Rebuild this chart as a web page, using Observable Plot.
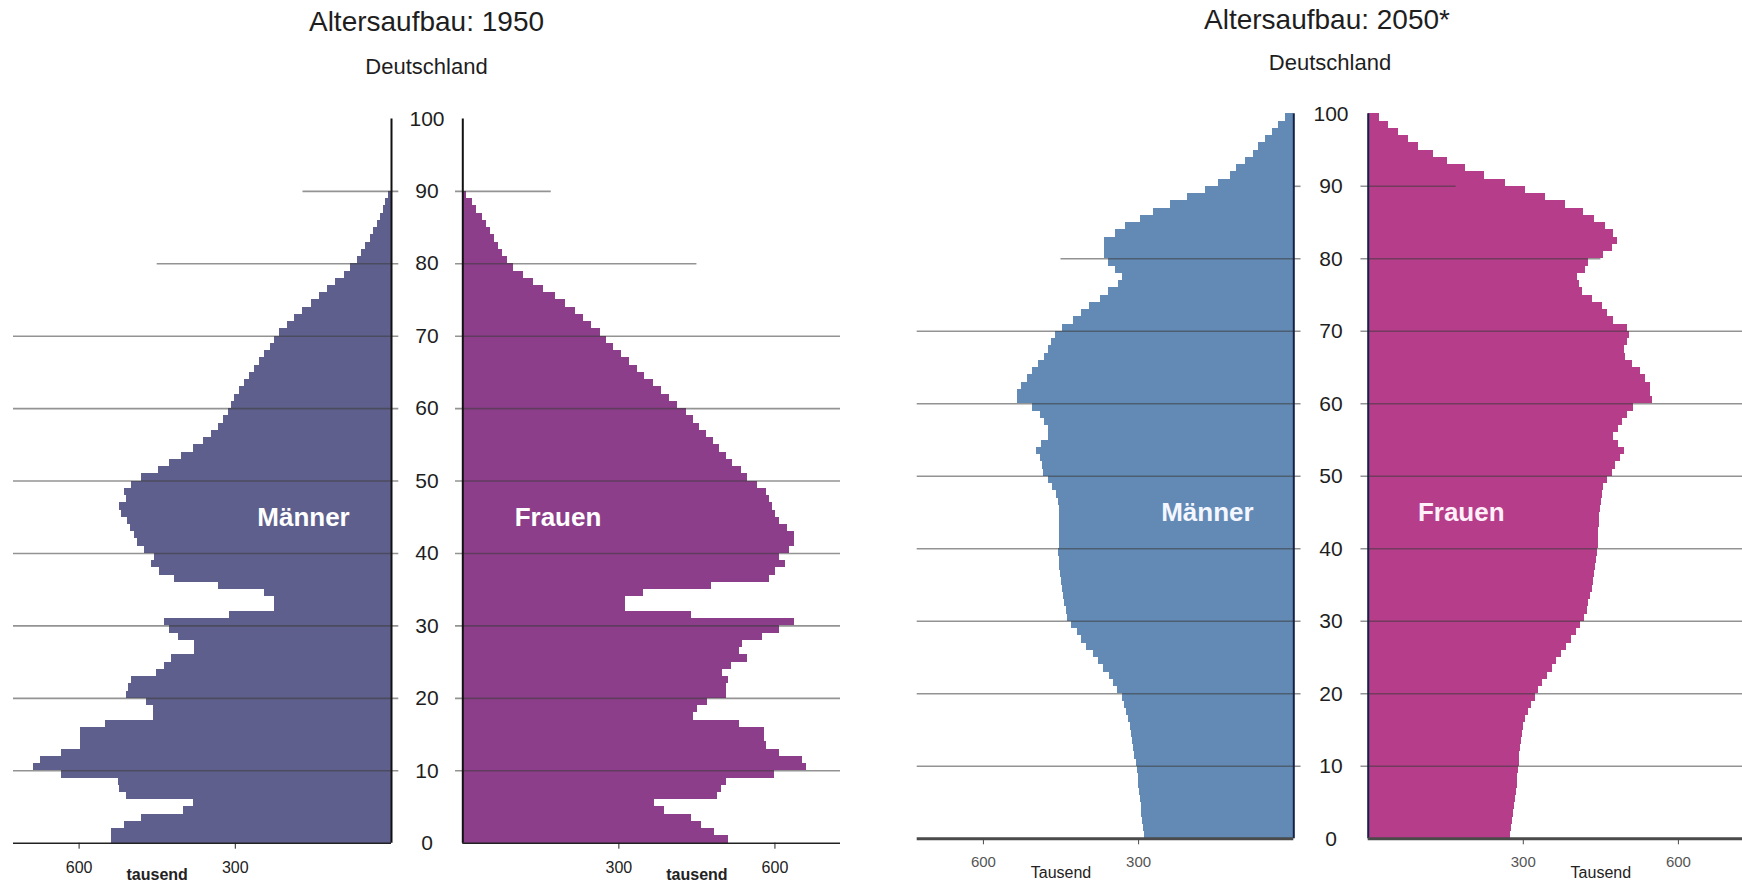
<!DOCTYPE html>
<html><head><meta charset="utf-8">
<script src="https://cdn.jsdelivr.net/npm/d3@7"></script>
<script src="https://cdn.jsdelivr.net/npm/@observablehq/plot@0.6"></script>
<style>
html,body{margin:0;padding:0;background:#fff;overflow:hidden;width:1742px;height:888px;}
#page{position:relative;width:1742px;height:888px;font-family:"Liberation Sans",Arial,sans-serif;}
.slot{position:absolute;top:0;}
.t{position:absolute;transform:translate(-50%,-50%);white-space:nowrap;color:#1e1e1e;}
</style></head><body><div id="page"></div>
<script>
// ---------- data (thousands of persons per single year of age) ----------
const ages = d3.range(0, 100);
const male1950 = [538,538,512,480,400,381,509,522,525,633,688,675,633,598,598,598,550,458,458,471,
  509,506,499,451,436,423,378,378,410,426,436,311,225,225,244,333,416,445,461,455,
  474,487,493,501,507,518,522,509,512,499,480,448,426,404,381,362,346,333,322,314,
  308,301,292,282,273,263,254,244,233,224,215,200,186,170,154,139,123,107,91,78,
  66,57,49,41,35,27,21,15,11,6,0,0,0,0,0,0,0,0,0,0];
const female1950 = [510,484,458,439,388,369,490,497,506,599,660,653,609,583,580,580,532,443,452,471,
  506,506,510,500,516,548,532,538,577,609,637,439,312,312,347,478,589,602,621,609,
  628,637,637,625,609,602,596,589,583,567,548,535,519,506,494,481,468,455,443,430,
  413,398,382,366,350,336,321,305,289,277,264,248,232,216,197,178,155,136,117,98,
  85,77,69,61,53,45,37,27,18,8,0,0,0,0,0,0,0,0,0,0];
const male2050 = [288,290,292,294,295,297,299,300,301,303,305,308,310,312,314,316,319,323,327,332,
  340,348,357,368,377,387,400,410,419,429,437,440,443,446,448,450,451,452,453,454,
  453,452,452,452,452,453,455,458,466,474,484,486,490,497,487,474,474,482,490,506,
  534,535,526,514,505,494,481,474,469,461,448,426,410,394,374,358,339,332,345,358,
  365,365,365,345,326,297,271,239,206,171,145,123,110,94,77,68,55,42,29,16];
const female2050 = [275,277,279,281,283,285,286,288,289,290,292,293,294,296,298,301,305,310,316,324,
  330,338,346,356,365,374,384,394,403,411,419,424,427,430,433,435,437,439,441,444,
  445,446,446,447,448,450,451,453,456,463,472,479,488,495,485,475,485,492,501,514,
  550,546,546,537,527,511,498,495,501,505,501,475,463,453,434,414,408,405,421,427,
  456,472,482,475,459,437,417,382,343,305,266,224,188,153,127,98,77,59,40,21];

const ageTicks = [0,10,20,30,40,50,60,70,80,90,100];
const xTicks = [300,600];
const gridAges = [10,20,30,40,50,60,70,80,90];
// how far each grid line reaches (thousands); null = full width
const gridReach1950 = [null,null,null,null,null,null,null,450,170];
const gridReach2050m = [null,null,null,null,null,null,null,450,0];
const gridReach2050f = [null,null,null,null,null,null,null,450,170];
const gridOverhang = 14;

const FONT = '"Liberation Sans", Arial, sans-serif';
const page = document.getElementById("page");

function half(o) {
  const data = ages.map((a, i) => ({age: a, value: o.values[i]}));
  const grid = gridAges.map((a, i) => ({age: a, reach: o.reach[i] == null ? o.domain : o.reach[i]}));
  const marks = [
    Plot.rect(data, {x1: 0, x2: "value", y1: "age", y2: d => d.age + 1, fill: o.color, shapeRendering: "crispEdges"}),
    Plot.ruleY(grid, {y: "age", x1: -gridOverhang, x2: "reach", stroke: "#3a3a3a", strokeOpacity: 0.55, strokeWidth: 1.6}),
    Plot.ruleX([0], {y1: 0, y2: 100, stroke: o.baseColor, strokeWidth: 2}),
    Plot.ruleY([0], {x1: 0, x2: o.domain, stroke: o.bottomColor, strokeWidth: o.bottomWidth}),
    Plot.axisX(xTicks, {anchor: "bottom", tickSize: 6, tickPadding: 12, fontSize: o.tickFont, stroke: o.bottomColor, fill: o.tickColor, label: null}),
    Plot.text([o.label], {x: o.labelX, y: 45, text: d => d, fill: o.labelColor, fontWeight: "bold", fontSize: 26}),
    Plot.text([o.unit], {x: 450, frameAnchor: "bottom", dy: o.unitDy, text: d => d, fontSize: o.unitFont, fontWeight: o.unitWeight, fill: "#222"})
  ];
  if (o.ageAxis) {
    marks.push(Plot.axisY(ageTicks, {anchor: "left", tickSize: 0, tickPadding: o.agePadding, textAnchor: "middle", fontSize: 21, fill: "#1e1e1e", label: null}));
  }
  const svg = Plot.plot({
    width: o.width, height: 888,
    marginLeft: o.marginLeft, marginRight: o.marginRight, marginTop: o.marginTop, marginBottom: o.marginBottom,
    x: {domain: [0, o.domain], reverse: o.reverse, axis: null},
    y: {domain: [0, 100], axis: null},
    style: {fontFamily: FONT, background: "transparent", overflow: "visible"},
    marks
  });
  const div = document.createElement("div");
  div.className = "slot";
  div.style.left = o.left + "px";
  div.appendChild(svg);
  page.appendChild(div);
}

function title(text, x, y, size) {
  const d = document.createElement("div");
  d.className = "t";
  d.style.left = x + "px"; d.style.top = y + "px"; d.style.fontSize = size + "px";
  d.textContent = text;
  page.appendChild(d);
}

// 1950
half({values: male1950, color: "#5f5f8d", baseColor: "#111", bottomColor: "#222", bottomWidth: 1.6,
  tickColor: "#222", tickFont: 16, label: "Männer", labelX: 169, labelColor: "#fff",
  unit: "tausend", unitDy: 37, unitFont: 16, unitWeight: "bold", reach: gridReach1950,
  left: 0, width: 400, marginLeft: 13, marginRight: 9, marginTop: 118.4, marginBottom: 45.3,
  domain: 726, reverse: true, ageAxis: false});
half({values: female1950, color: "#8d3e8b", baseColor: "#111", bottomColor: "#222", bottomWidth: 1.6,
  tickColor: "#222", tickFont: 16, label: "Frauen", labelX: 183, labelColor: "#fff",
  unit: "tausend", unitDy: 37, unitFont: 16, unitWeight: "bold", reach: gridReach1950,
  left: 400, width: 450, marginLeft: 62.3, marginRight: 10, marginTop: 118.4, marginBottom: 45.3,
  domain: 726, reverse: false, ageAxis: true, agePadding: 35.8});

// 2050
half({values: male2050, color: "#628ab5", baseColor: "#14224a", bottomColor: "#4a4a4a", bottomWidth: 3,
  tickColor: "#555", tickFont: 15, label: "Männer", labelX: 167, labelColor: "#f4f7ff",
  unit: "Tausend", unitDy: 39, unitFont: 16, unitWeight: "normal", reach: gridReach2050m,
  left: 900, width: 405, marginLeft: 16.7, marginRight: 11.7, marginTop: 113.3, marginBottom: 49.7,
  domain: 728, reverse: true, ageAxis: false});
half({values: female2050, color: "#b53d89", baseColor: "#14224a", bottomColor: "#4a4a4a", bottomWidth: 3,
  tickColor: "#555", tickFont: 15, label: "Frauen", labelX: 180, labelColor: "#fff0fa",
  unit: "Tausend", unitDy: 39, unitFont: 16, unitWeight: "normal", reach: gridReach2050f,
  left: 1305, width: 437, marginLeft: 62.7, marginRight: 0, marginTop: 113.3, marginBottom: 49.7,
  domain: 724, reverse: false, ageAxis: true, agePadding: 37.2});

title("Altersaufbau: 1950", 426.5, 22, 28);
title("Deutschland", 426.5, 67, 22);
title("Altersaufbau: 2050*", 1327, 20, 28);
title("Deutschland", 1330, 63, 22);
</script></body></html>
